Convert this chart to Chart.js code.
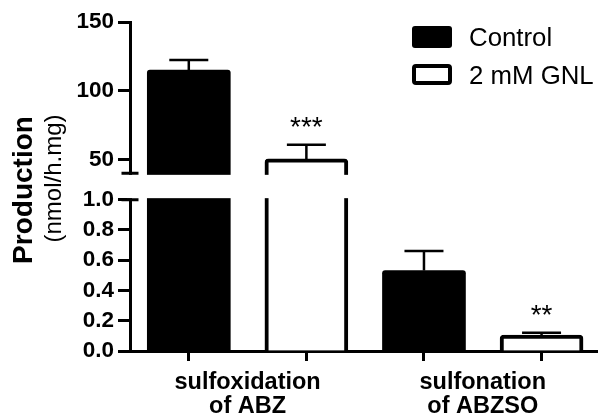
<!DOCTYPE html>
<html><head><meta charset="utf-8">
<script src="https://cdn.jsdelivr.net/npm/chart.js@4.4.0/dist/chart.umd.min.js"></script>
<style>html,body{margin:0;padding:0;background:#fff;} #wrap{width:598px;height:416px;position:relative;}</style>
</head><body><div id="wrap"><canvas id="c" width="598" height="416"></canvas></div>
<script>
// ---- data ----
const categories = [['sulfoxidation', 'of ABZ'], ['sulfonation', 'of ABZSO']];
const seriesNames = ['Control', '2 mM GNL'];
const controlValues = [115.0, 0.532];
const controlErrors = [7.3, 0.128];
const gnlValues = [50.5, 0.105];
const gnlErrors = [10.3, 0.015];
const gnlSignificance = ['***', '**'];
const lowerTicks = [0, 0.2, 0.4, 0.6, 0.8, 1.0];
const lowerTickLabels = ['0.0', '0.2', '0.4', '0.6', '0.8', '1.0'];
const upperTicks = [50, 100, 150];
const upperTickLabels = ['50', '100', '150'];
const lowerRange = [0, 1];
const upperRange = [40, 150];
const yTitle = 'Production';
const yUnit = '(nmol/h.mg)';

// ---- broken axis scale ----
const LOW_FRAC = 0.46, UP_FRAC = 0.46;
class BrokenLinearScale extends Chart.LinearScale {
  determineDataLimits() { this.min = lowerRange[0]; this.max = upperRange[1]; }
  buildTicks() { return lowerTicks.concat(upperTicks).map(v => ({ value: v })); }
  _segs() {
    const H = this.bottom - this.top;
    return { lowBottom: this.bottom, lowTop: this.bottom - H * LOW_FRAC, upBottom: this.top + H * UP_FRAC, upTop: this.top };
  }
  getPixelForValue(v) {
    if (v === null || v === undefined || isNaN(v)) return NaN;
    const s = this._segs();
    if (v <= lowerRange[1]) return s.lowBottom - (v - lowerRange[0]) / (lowerRange[1] - lowerRange[0]) * (s.lowBottom - s.lowTop);
    if (v >= upperRange[0]) return s.upBottom - (v - upperRange[0]) / (upperRange[1] - upperRange[0]) * (s.upBottom - s.upTop);
    return s.lowTop - (v - lowerRange[1]) / (upperRange[0] - lowerRange[1]) * (s.lowTop - s.upBottom);
  }
  getValueForPixel(p) {
    const s = this._segs();
    if (p >= s.lowTop) return lowerRange[0] + (s.lowBottom - p) / (s.lowBottom - s.lowTop) * (lowerRange[1] - lowerRange[0]);
    if (p <= s.upBottom) return upperRange[0] + (s.upBottom - p) / (s.upBottom - s.upTop) * (upperRange[1] - upperRange[0]);
    return lowerRange[1] + (s.lowTop - p) / (s.lowTop - s.upBottom) * (upperRange[0] - lowerRange[1]);
  }
}
BrokenLinearScale.id = 'brokenLinear';
BrokenLinearScale.defaults = {};
Chart.register(BrokenLinearScale);

const yTickLabels = lowerTickLabels.concat(upperTickLabels);
const barPositions = (g, s) => 2 * g + 1 + s;
const groupCenter = g => 2 * g + 1.5;
const xTickValues = [];
categories.forEach((c, g) => { xTickValues.push(barPositions(g, 0), groupCenter(g), barPositions(g, 1)); });

const FONT = "'Liberation Sans', Arial, Helvetica, sans-serif";

const overlay = {
  id: 'overlay',
  afterDatasetsDraw(chart) {
    const ctx = chart.ctx, y = chart.scales.y, area = chart.chartArea;
    ctx.save();
    // error bars + significance
    const errs = [controlErrors, gnlErrors];
    const vals = [controlValues, gnlValues];
    chart.data.datasets.forEach((ds, di) => {
      const meta = chart.getDatasetMeta(di);
      meta.data.forEach((bar, i) => {
        const top = y.getPixelForValue(vals[di][i] + errs[di][i]);
        ctx.strokeStyle = '#000'; ctx.lineWidth = 2.5; ctx.lineCap = 'butt';
        ctx.beginPath();
        ctx.moveTo(bar.x, bar.y); ctx.lineTo(bar.x, top);
        ctx.moveTo(bar.x - 19.5, top); ctx.lineTo(bar.x + 19.5, top);
        ctx.stroke();
        if (di === 1 && gnlSignificance[i]) {
          ctx.fillStyle = '#000';
          ctx.font = '28px ' + FONT;
          ctx.textAlign = 'center'; ctx.textBaseline = 'alphabetic';
          ctx.fillText(gnlSignificance[i], bar.x, top - 9);
        }
      });
    });
    // axis break
    const yUp = y.getPixelForValue(upperRange[0]);
    const yLow = y.getPixelForValue(lowerRange[1]);
    ctx.fillStyle = '#fff';
    ctx.fillRect(area.left - 3, yUp + 1.5, area.right - area.left + 3, yLow - yUp - 3);
    ctx.strokeStyle = '#000'; ctx.lineWidth = 3;
    ctx.beginPath();
    ctx.moveTo(area.left - 8.5, yUp); ctx.lineTo(area.left + 8.5, yUp);
    ctx.moveTo(area.left - 8.5, yLow); ctx.lineTo(area.left + 8.5, yLow);
    ctx.stroke();
    ctx.restore();
  },
  afterDraw(chart) {
    const ctx = chart.ctx;
    ctx.save();
    // legend
    const ds = chart.data.datasets;
    const items = [{ y: 26, h: 22 }, { y: 64, h: 21 }];
    ds.forEach((d, i) => {
      const it = items[i];
      ctx.beginPath();
      if (i === 0) {
        ctx.fillStyle = d.backgroundColor;
        ctx.roundRect(412, it.y, 40, it.h, 3); ctx.fill();
      } else {
        ctx.fillStyle = d.backgroundColor; ctx.strokeStyle = d.borderColor; ctx.lineWidth = 4;
        ctx.roundRect(414, it.y + 2, 36, it.h - 4, 2); ctx.fill(); ctx.stroke();
      }
      ctx.fillStyle = '#000';
      ctx.font = '25.8px ' + FONT;
      ctx.textAlign = 'left'; ctx.textBaseline = 'alphabetic';
      ctx.fillText(d.label, 469, i === 0 ? 46 : 84);
    });
    // y titles
    const dpr = chart.currentDevicePixelRatio || 1;
    ctx.translate(32, 190); ctx.rotate(-Math.PI / 2);
    ctx.font = 'bold 28px ' + FONT; ctx.textAlign = 'center'; ctx.textBaseline = 'alphabetic';
    ctx.fillText(yTitle, 0, 0);
    ctx.setTransform(dpr, 0, 0, dpr, 0, 0);
    ctx.translate(61, 178.5); ctx.rotate(-Math.PI / 2);
    ctx.font = '24px ' + FONT;
    ctx.fillText(yUnit, 0, 0);
    ctx.restore();
  }
};

new Chart(document.getElementById('c'), {
  type: 'bar',
  data: {
    datasets: [
      { label: seriesNames[0], data: controlValues.map((v, g) => ({ x: barPositions(g, 0), y: v })),
        backgroundColor: '#000', borderColor: '#000', borderWidth: 0, borderRadius: 3, borderSkipped: 'start',
        barThickness: 83, grouped: false },
      { label: seriesNames[1], data: gnlValues.map((v, g) => ({ x: barPositions(g, 1), y: v })),
        backgroundColor: '#fff', borderColor: '#000', borderWidth: 4, borderRadius: 4, borderSkipped: 'start',
        barThickness: 83, grouped: false }
    ]
  },
  options: {
    responsive: false,
    animation: false,
    layout: { padding: { top: 22, left: 0, right: 0, bottom: 0 } },
    plugins: { legend: { display: false }, tooltip: { enabled: false } },
    scales: {
      x: {
        type: 'linear', min: 0.5, max: 4.48, offset: false,
        afterBuildTicks: s => { s.ticks = xTickValues.map(v => ({ value: v })); },
        afterFit: s => { s.height = 65; },
        ticks: {
          autoSkip: false, maxRotation: 0, minRotation: 0, padding: 9, color: '#000',
          font: { family: FONT, size: 23.5, weight: 'bold', lineHeight: 1.04 },
          callback: (v) => {
            const g = categories.findIndex((c, gi) => Math.abs(groupCenter(gi) - v) < 1e-6);
            return g >= 0 ? categories[g] : '';
          }
        },
        grid: {
          offset: false, drawOnChartArea: false, drawTicks: true, tickLength: 10, tickWidth: 3,
          tickColor: ctx => (ctx.tick && categories.some((c, gi) => Math.abs(groupCenter(gi) - ctx.tick.value) < 1e-6)) ? 'rgba(0,0,0,0)' : '#000'
        },
        border: { color: '#000', width: 3 }
      },
      y: {
        type: 'brokenLinear',
        afterFit: s => { s.width = 130; },
        ticks: {
          autoSkip: false, padding: 4, color: '#000',
          font: { family: FONT, size: 22.5, weight: 'bold' },
          callback: (v, i) => yTickLabels[i]
        },
        grid: { drawOnChartArea: false, drawTicks: true, tickLength: 12, tickWidth: 3, tickColor: '#000' },
        border: { color: '#000', width: 3 }
      }
    }
  },
  plugins: [overlay]
});
</script>
</body></html>
